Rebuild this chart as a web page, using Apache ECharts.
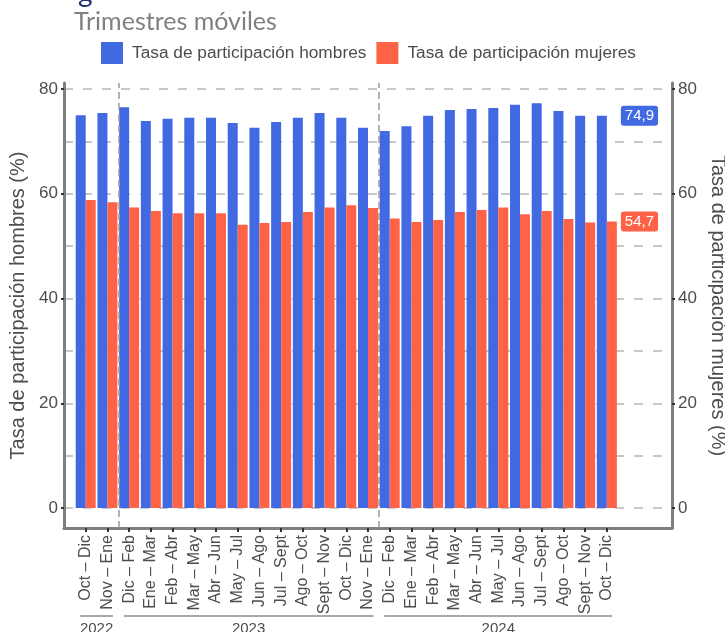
<!DOCTYPE html>
<html>
<head>
<meta charset="utf-8">
<script src="https://cdn.jsdelivr.net/npm/echarts@6/dist/echarts.min.js"></script>
<style>
  html, body { margin: 0; padding: 0; background: #fff; }
  #main { width: 725px; height: 632px; }
</style>
</head>
<body>
<div id="main"></div>
<script>
// trimestres móviles
const categories = ['Oct – Dic', 'Nov – Ene', 'Dic – Feb', 'Ene – Mar', 'Feb – Abr', 'Mar – May',
  'Abr – Jun', 'May – Jul', 'Jun – Ago', 'Jul – Sept', 'Ago – Oct', 'Sept – Nov', 'Oct – Dic',
  'Nov – Ene', 'Dic – Feb', 'Ene – Mar', 'Feb – Abr', 'Mar – May', 'Abr – Jun', 'May – Jul',
  'Jun – Ago', 'Jul – Sept', 'Ago – Oct', 'Sept – Nov', 'Oct – Dic']
const years = ['2022', '2023', '2024']
const yearCounts = [2, 12, 11]
const hombres = [75.0, 75.4, 76.5, 73.9, 74.3, 74.5, 74.5, 73.5, 72.6, 73.7, 74.5, 75.4, 74.5,
  72.6, 72.0, 72.9, 74.9, 76.0, 76.2, 76.4, 77.0, 77.3, 75.8, 74.9, 74.9]
const mujeres = [58.8, 58.4, 57.4, 56.7, 56.3, 56.3, 56.3, 54.1, 54.4, 54.6, 56.5, 57.4, 57.8,
  57.3, 55.3, 54.6, 55.0, 56.5, 56.9, 57.4, 56.1, 56.7, 55.2, 54.5, 54.7]
const yTicks = [0, 20, 40, 60, 80]
const yMinor = [10, 30, 50, 70]

const AZUL = '#4169E1'
const ROJO = '#FF6347'
const TXT = '#4d4d4d'
const FONT = 'Liberation Sans'

// un hueco antes y tres despues, como en el original
const padL = 1, padR = 3
const xData = Array(padL).fill('').concat(categories, Array(padR).fill(''))
const nX = xData.length
const isReal = i => i >= padL && i < padL + categories.length

function serie(vals, color) {
    let d = Array(padL).fill('-').concat(vals, Array(padR).fill('-'))
    let last = padL + vals.length - 1
    d[last] = {
        value: vals[vals.length - 1],
        label: {
            show: true,
            position: [color === AZUL ? 24 : 14, 0],
            verticalAlign: 'middle',
            align: 'left',
            formatter: p => String(p.value).replace('.', ','),
            color: '#fff',
            fontSize: 15,
            fontFamily: FONT,
            backgroundColor: color,
            borderRadius: 3,
            padding: [3, 4, 2, 4]
        }
    }
    return d
}

// separadores entre años
let breaks = []
let acc = padL
yearCounts.slice(0, -1).forEach(c => { acc += c; breaks.push(acc - 0.5) })

let chart = echarts.init(document.getElementById('main'))

const yBase = {
    type: 'value',
    min: -3.82,
    max: 81.15,
    axisLine: { show: true, lineStyle: { color: '#7f7f7f', width: 3 } },
    axisTick: { show: true, length: 3, customValues: yTicks, lineStyle: { color: '#333', width: 2 } },
    axisLabel: { customValues: yTicks, color: TXT, fontSize: 17, fontFamily: FONT, margin: 6 },
    splitLine: { show: false },
    nameLocation: 'middle',
    nameTextStyle: { color: TXT, fontSize: 20, fontFamily: FONT }
}

chart.setOption({
    animation: false,
    title: [
        { text: 'g', left: 73, top: -26, textStyle: { color: '#1f2f6e', fontSize: 28, fontWeight: 'normal', fontFamily: 'Lato' } },
        { text: 'Trimestres móviles', left: 69, top: 4, textStyle: { color: '#808080', fontSize: 25, fontWeight: 'normal', fontFamily: 'Lato' } }
    ],
    legend: {
        top: 42,
        left: 101,
        padding: 0,
        itemWidth: 22,
        itemHeight: 22,
        itemGap: 10,
        icon: 'rect',
        textStyle: { color: TXT, fontSize: 17.3, fontFamily: FONT, padding: [0, 0, 0, 4] },
        data: ['Tasa de participación hombres', 'Tasa de participación mujeres']
    },
    grid: { left: 64, right: 53, top: 83, bottom: 104, outerBoundsMode: 'none', containLabel: false },
    xAxis: [
        {
            type: 'category',
            data: xData,
            boundaryGap: false,
            axisLine: { show: true, onZero: false, lineStyle: { color: '#7f7f7f', width: 3 } },
            axisTick: { show: true, length: 4, interval: i => isReal(i), lineStyle: { color: '#333', width: 2 } },
            axisLabel: { rotate: 90, interval: i => isReal(i), color: TXT, fontSize: 16, fontFamily: FONT, margin: 7 },
            splitLine: { show: false }
        },
        { type: 'value', min: 0, max: nX - 1, show: false }
    ],
    yAxis: [
        Object.assign({}, yBase, {
            position: 'left',
            name: 'Tasa de participación hombres (%)',
            nameGap: 27,
            splitLine: { show: true, lineStyle: { color: '#c8c8c8', width: 2, type: [9, 10] } }
        }),
        Object.assign({}, yBase, {
            position: 'right',
            name: 'Tasa de participación mujeres (%)',
            nameGap: 28,
            nameRotate: -90
        }),
        {
            type: 'value', min: -3.82, max: 81.15, position: 'left',
            axisLine: { show: false }, axisLabel: { show: false },
            axisTick: { show: false, customValues: yMinor },
            splitLine: { show: true, lineStyle: { color: '#c8c8c8', width: 2, type: [9, 10] } }
        }
    ],
    series: [
        {
            name: 'Tasa de participación hombres',
            type: 'bar',
            barWidth: 10,
            barGap: '0%',
            itemStyle: { color: AZUL },
            data: serie(hombres, AZUL),
            z: 3
        },
        {
            name: 'Tasa de participación mujeres',
            type: 'bar',
            barWidth: 10,
            barGap: '0%',
            itemStyle: { color: ROJO },
            data: serie(mujeres, ROJO),
            z: 3
        },
        {
            type: 'line',
            xAxisIndex: 1,
            data: [],
            silent: true,
            markLine: {
                silent: true,
                symbol: 'none',
                label: { show: false },
                lineStyle: { color: '#9a9a9a', width: 1.5, type: [7, 4] },
                data: breaks.map(b => ({ xAxis: b }))
            }
        }
    ]
})

// llaves de año debajo de las etiquetas
const px = v => chart.convertToPixel({ xAxisIndex: 1 }, v)
let graphics = []
let start = padL
years.forEach((y, k) => {
    let a = px(start) - 5.5
    let b = px(start + yearCounts[k] - 1) + 5.5
    graphics.push({
        type: 'line',
        shape: { x1: a, y1: 616, x2: b, y2: 616 },
        style: { stroke: '#8c8c8c', lineWidth: 1.5 }
    })
    graphics.push({
        type: 'text',
        x: (a + b) / 2,
        y: 621,
        style: { text: y, fill: TXT, font: '15px "Liberation Sans"', textAlign: 'center', textVerticalAlign: 'top' }
    })
    start += yearCounts[k]
})
chart.setOption({ graphic: graphics })
</script>
</body>
</html>
